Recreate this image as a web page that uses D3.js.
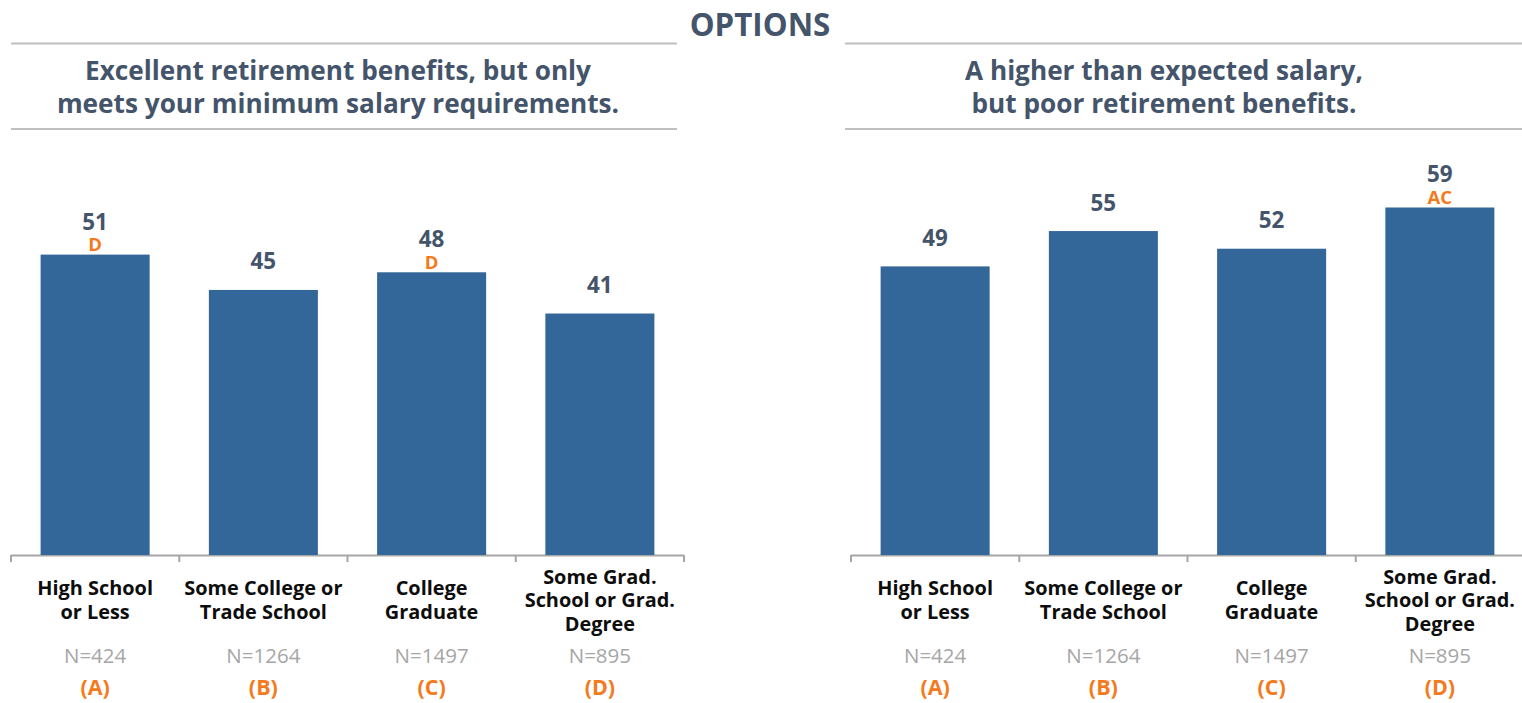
<!DOCTYPE html>
<html>
<head>
<meta charset="utf-8">
<script src="https://cdn.jsdelivr.net/npm/d3@7/dist/d3.min.js"></script>
<style>
  html, body { margin: 0; padding: 0; background: #ffffff; }
  svg { display: block; font-family: "Open Sans", "Noto Sans", sans-serif; }
</style>
</head>
<body>
<svg id="chart" width="1522" height="703"></svg>
<script>
// ---- data ----
const headerTitle = "OPTIONS";
const panelTitles = [
  ["Excellent retirement benefits, but only", "meets your minimum salary requirements."],
  ["A higher than expected salary,", "but poor retirement benefits."]
];
const categories = ["High School or Less", "Some College or Trade School", "College Graduate", "Some Grad. School or Grad. Degree"];
const categoryLines = [
  ["High School", "or Less"],
  ["Some College or", "Trade School"],
  ["College", "Graduate"],
  ["Some Grad.", "School or Grad.", "Degree"]
];
const sampleSizes = ["N=424", "N=1264", "N=1497", "N=895"];
const groupLetters = ["(A)", "(B)", "(C)", "(D)"];
const retirementValues = [51, 45, 48, 41];
const retirementSig = ["D", "", "D", ""];
const salaryValues = [49, 55, 52, 59];
const salarySig = ["", "", "", "AC"];

// ---- styling ----
const COLORS = {
  bar: "#346799",
  title: "#44546a",
  rule: "#bfbfbf",
  axis: "#a6a6a6",
  category: "#0d0d0d",
  sample: "#a6a6a6",
  sig: "#f47a20"
};

const svg = d3.select("#chart");
const baseline = 555;

const y = d3.scaleLinear().domain([0, 60]).range([baseline, baseline - 60 * 5.89]);

const panels = [
  { values: retirementValues, sig: retirementSig, titles: panelTitles[0],
    range: [11, 684], rule: [11, 677], titleX: 338 },
  { values: salaryValues, sig: salarySig, titles: panelTitles[1],
    range: [851, 1524], rule: [845, 1522], titleX: 1164 }
];

// header
svg.append("text")
  .attr("x", 760).attr("y", 36)
  .attr("text-anchor", "middle")
  .attr("font-size", 31.3).attr("font-weight", 700)
  .attr("fill", COLORS.title)
  .text(headerTitle);

panels.forEach(p => {
  const g = svg.append("g");

  // rules above and below the option title
  [43.5, 129].forEach(ry => {
    g.append("line")
      .attr("x1", p.rule[0]).attr("x2", p.rule[1])
      .attr("y1", ry).attr("y2", ry)
      .attr("stroke", COLORS.rule).attr("stroke-width", 2);
  });

  // option title
  const t = g.append("text")
    .attr("text-anchor", "middle")
    .attr("font-size", 26.2).attr("font-weight", 700)
    .attr("fill", COLORS.title);
  p.titles.forEach((line, i) => {
    t.append("tspan").attr("x", p.titleX).attr("y", 80 + i * 33).text(line);
  });

  const x = d3.scaleBand()
    .domain(categories)
    .range(p.range)
    .paddingInner(0.352)
    .paddingOuter(0.176);

  // category axis with ticks at band boundaries
  const step = x.step();
  const x0 = p.range[0];
  g.append("line")
    .attr("x1", x0).attr("x2", p.range[1])
    .attr("y1", baseline + 0.5).attr("y2", baseline + 0.5)
    .attr("stroke", COLORS.axis).attr("stroke-width", 2);
  d3.range(categories.length + 1).forEach(i => {
    const tx = x0 + i * step;
    g.append("line")
      .attr("x1", tx).attr("x2", tx)
      .attr("y1", baseline).attr("y2", baseline + 7)
      .attr("stroke", COLORS.axis).attr("stroke-width", 2);
  });

  // bars
  g.selectAll("rect.bar")
    .data(p.values)
    .join("rect")
    .attr("class", "bar")
    .attr("x", (d, i) => x(categories[i]))
    .attr("width", x.bandwidth())
    .attr("y", d => y(d))
    .attr("height", d => y(0) - y(d))
    .attr("fill", COLORS.bar);

  // value labels with significance letters
  p.values.forEach((v, i) => {
    const cx = x(categories[i]) + x.bandwidth() / 2;
    const top = y(v);
    const letter = p.sig[i];
    let numY = top - 20.5;
    if (letter) {
      const letY = top - 3.5;
      numY = letY - 21.5;
      g.append("text")
        .attr("x", cx).attr("y", letY)
        .attr("text-anchor", "middle")
        .attr("font-size", 18.5).attr("font-weight", 700)
        .attr("fill", COLORS.sig)
        .text(letter);
    }
    g.append("text")
      .attr("x", cx).attr("y", numY)
      .attr("text-anchor", "middle")
      .attr("font-size", 22.4).attr("font-weight", 700)
      .attr("fill", COLORS.title)
      .text(v);
  });

  // category labels, sample sizes and group letters
  categories.forEach((c, i) => {
    const cx = x(c) + x.bandwidth() / 2;
    const lines = categoryLines[i];
    const lt = g.append("text")
      .attr("text-anchor", "middle")
      .attr("font-size", 19.9).attr("font-weight", 700)
      .attr("fill", COLORS.category);
    lines.forEach((line, j) => {
      lt.append("tspan")
        .attr("x", cx)
        .attr("y", 607 + (j - (lines.length - 1) / 2) * 23.5)
        .text(line);
    });
    g.append("text")
      .attr("x", cx).attr("y", 663)
      .attr("text-anchor", "middle")
      .attr("font-size", 20.5)
      .attr("fill", COLORS.sample)
      .text(sampleSizes[i]);
    g.append("text")
      .attr("x", cx).attr("y", 695)
      .attr("text-anchor", "middle")
      .attr("font-size", 21.5).attr("font-weight", 700)
      .attr("fill", COLORS.sig)
      .text(groupLetters[i]);
  });
});
</script>
</body>
</html>
